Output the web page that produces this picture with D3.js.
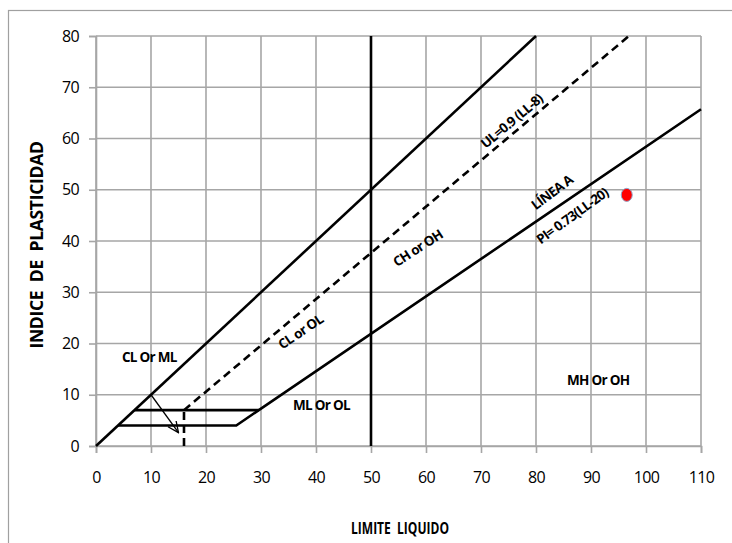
<!DOCTYPE html>
<html><head><meta charset="utf-8">
<script src="https://cdn.jsdelivr.net/npm/d3@7"></script>
<style>
html,body{margin:0;padding:0;background:#fff;}
svg text{font-family:"Open Sans",Arial,sans-serif;}
</style></head>
<body><svg id="c" width="732" height="543"></svg>
<script>
const xTicks = [0,10,20,30,40,50,60,70,80,90,100,110];
const yTicks = [0,10,20,30,40,50,60,70,80];
const lineCL = [[0,0],[80,80]];
const lineU = [[16,7],[96.9,80]];
const lineUvert = [[16,0],[16,7]];
const lineA = [[4,4],[25.5,4],[29.6,7],[110,65.7]];
const line7 = [[7,7],[29.6,7]];
const line50 = [[50,0],[50,80]];
const arrowPts = [[10,10],[15,2.6]];
const samplePoint = [[96.5,49]];
const zoneLabels = [
  {t:"CL Or ML", x:9.7, y:17.4, a:0},
  {t:"ML Or OL", x:41, y:8, a:0},
  {t:"MH Or OH", x:91.3, y:12.8, a:0},
  {t:"CL or OL", x:37.2, y:22.3, a:-34},
  {t:"CH or OH", x:58.5, y:38.6, a:-33},
  {t:"UL=0.9 (LL-8)", x:75.6, y:63.4, a:-40},
  {t:"LÍNEA A", x:82.9, y:49.5, a:-37},
  {t:"PI= 0.73(LL-20)", x:86.6, y:44.9, a:-36}
];

const svg = d3.select("#c");
const x = d3.scaleLinear().domain([0,110]).range([96,701]);
const y = d3.scaleLinear().domain([0,80]).range([446,36]);
const grid = "#a6a6a6";

svg.append("rect").attr("x",8.5).attr("y",10.5).attr("width",760).attr("height",560)
  .attr("fill","none").attr("stroke","#a0a0a0").attr("stroke-width",1.2);

// gridlines
svg.append("g").selectAll("line").data(xTicks).join("line")
  .attr("x1",d=>x(d)).attr("x2",d=>x(d)).attr("y1",y(0)).attr("y2",y(80))
  .attr("stroke",grid).attr("stroke-width",1.6);
svg.append("g").selectAll("line").data(yTicks).join("line")
  .attr("x1",x(0)).attr("x2",x(110)).attr("y1",d=>y(d)).attr("y2",d=>y(d))
  .attr("stroke",grid).attr("stroke-width",1.6);

// axes
const xa = svg.append("g").attr("transform",`translate(0,${y(0)})`)
  .call(d3.axisBottom(x).tickValues(xTicks).tickSize(7).tickPadding(19).tickFormat(d3.format("d")));
const ya = svg.append("g").attr("transform",`translate(${x(0)},0)`)
  .call(d3.axisLeft(y).tickValues(yTicks).tickSize(7).tickPadding(10).tickFormat(d3.format("d")));
[xa,ya].forEach(g=>{
  g.select(".domain").attr("stroke",grid).attr("stroke-width",1.6);
  g.selectAll(".tick line").attr("stroke",grid).attr("stroke-width",1.6);
  g.selectAll(".tick text").attr("fill","#000").attr("font-size",16)
   .attr("font-family","'Open Sans',Arial,sans-serif").attr("letter-spacing",-0.6);
});

const lg = d3.line().x(d=>x(d[0])).y(d=>y(d[1]));
function path(data, dash, w){
  svg.append("path").attr("d",lg(data)).attr("fill","none").attr("stroke","#000")
    .attr("stroke-width",w||2.6).attr("stroke-dasharray",dash||null);
}
path(lineCL);
path(line50);
path(lineA);
path(line7);
path(lineU,"8,5");
path(lineUvert,"8,5");

// arrow
svg.append("defs").append("marker").attr("id","ah").attr("viewBox","0 0 12 12")
  .attr("refX",11).attr("refY",6).attr("markerWidth",12).attr("markerHeight",12)
  .attr("markerUnits","userSpaceOnUse").attr("orient","auto")
  .append("path").attr("d","M0,1 L11,6 L0,11").attr("fill","none").attr("stroke","#000").attr("stroke-width",1.3);
svg.append("path").attr("d",lg(arrowPts)).attr("stroke","#000").attr("stroke-width",1.3)
  .attr("fill","none").attr("marker-end","url(#ah)");

// point
svg.selectAll("ellipse.pt").data(samplePoint).join("ellipse").attr("class","pt")
  .attr("cx",d=>x(d[0])).attr("cy",d=>y(d[1])).attr("rx",5.5).attr("ry",6.5)
  .attr("fill","#ff0000").attr("stroke","#8ea4c8").attr("stroke-width",1);

// labels
svg.selectAll("text.zl").data(zoneLabels).join("text").attr("class","zl")
  .attr("transform",d=>`translate(${x(d.x)},${y(d.y)}) rotate(${d.a})`)
  .attr("text-anchor","middle").attr("dy","0.35em")
  .attr("font-size",13.5).attr("font-weight","bold").attr("fill","#000")
  .attr("letter-spacing",-0.7)
  .text(d=>d.t);

// axis titles
svg.append("text").attr("x",400).attr("y",528).attr("text-anchor","middle")
  .attr("font-size",16).attr("font-weight","bold").attr("dy","0.35em")
  .attr("textLength",98).attr("lengthAdjust","spacingAndGlyphs")
  .attr("xml:space","preserve").text("LIMITE  LIQUIDO");
svg.append("text").attr("transform","translate(37,245) rotate(-90)").attr("text-anchor","middle")
  .attr("font-size",17.5).attr("font-weight","bold").attr("dy","0.35em")
  .attr("letter-spacing",-0.3)
  .attr("xml:space","preserve").text("INDICE  DE  PLASTICIDAD");
</script></body></html>
